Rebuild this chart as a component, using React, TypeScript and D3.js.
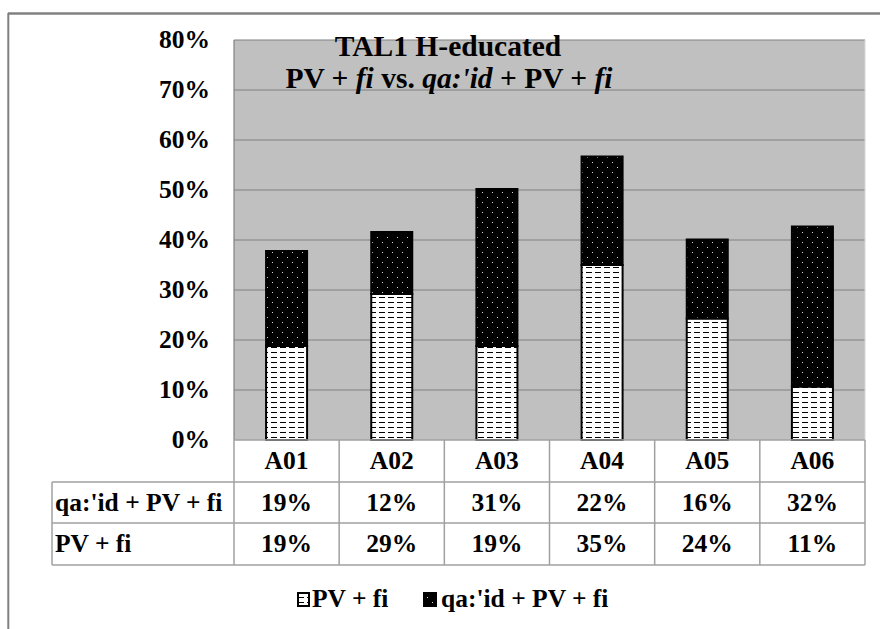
import React from "react";
import * as d3 from "d3";

const categories = ["A01", "A02", "A03", "A04", "A05", "A06"];
const seriesNames = ["PV + fi", "qa:'id + PV + fi"];
const pvValues = [18.8, 29.2, 18.8, 35.0, 24.3, 10.7];
const qaValues = [19.0, 12.4, 31.4, 21.7, 15.8, 32.0];
const yTicks = [0, 10, 20, 30, 40, 50, 60, 70, 80];

const W = 880;
const H = 629;
const plotL = 234;
const plotR = 865;
const plotT = 40;
const plotB = 440;
const tableL = 52;
const rowBounds = [440, 482, 523, 565];
const FONT = "'Liberation Serif', 'Times New Roman', serif";

export default function App() {
  const x = d3.scaleBand<string>().domain(categories).range([plotL, plotR]).paddingInner(0).paddingOuter(0);
  const y = d3.scaleLinear().domain([0, 80]).range([plotB, plotT]);
  const barW = x.bandwidth() * 0.39;
  const stackData = categories.map((c, i) => ({ cat: c, pv: pvValues[i], qa: qaValues[i] }));
  const stack = d3.stack<any>().keys(["pv", "qa"])(stackData);
  const fills = ["url(#dashPat)", "url(#dotPat)"];
  const fmt = (v: number) => `${Math.round(v)}%`;
  const rows = [
    { label: seriesNames[1], values: qaValues },
    { label: seriesNames[0], values: pvValues },
  ];
  const fs = 25.5;

  return (
    <svg width={W} height={H} style={{ position: "absolute", left: 0, top: 0, background: "#fff" }}>
      <defs>
        <pattern id="dashPat" patternUnits="userSpaceOnUse" width={9} height={5}>
          <rect width={9} height={5} fill="#fff" />
          <rect x={1} y={2} width={6} height={1} fill="#000" />
        </pattern>
        <pattern id="dotPat" patternUnits="userSpaceOnUse" width={10} height={10}>
          <rect width={10} height={10} fill="#000" />
          <rect x={2} y={2} width={1} height={1} fill="#d8d8d8" />
          <rect x={7} y={7} width={1} height={1} fill="#d8d8d8" />
        </pattern>
      </defs>
      {/* outer frame */}
      <line x1={8} y1={13.5} x2={W} y2={13.5} stroke="#808080" strokeWidth={2.5} />
      <line x1={8.3} y1={13} x2={8.3} y2={H} stroke="#808080" strokeWidth={2} />
      {/* plot area */}
      <rect x={plotL} y={plotT} width={plotR - plotL} height={plotB - plotT} fill="#c0c0c0" />
      {yTicks.filter((t) => t > 0 && t < 80).map((t) => (
        <line key={t} x1={plotL} x2={plotR} y1={y(t)} y2={y(t)} stroke="#808080" strokeWidth={1.2} />
      ))}
      <line x1={plotL} x2={plotR} y1={plotT} y2={plotT} stroke="#808080" strokeWidth={1.2} />
      <line x1={plotL} x2={plotL} y1={plotT} y2={plotB} stroke="#808080" strokeWidth={1.2} />
      <line x1={plotR} x2={plotR} y1={plotT} y2={plotB} stroke="#d8d8d8" strokeWidth={1} />
      <g style={{ fontFamily: FONT, fontWeight: "bold" }}>
        {/* y tick labels */}
        {yTicks.map((t) => (
          <text key={t} x={210} y={y(t) + fs * 0.33} textAnchor="end" fontSize={fs}>
            {`${t}%`}
          </text>
        ))}
      </g>
      {/* bars */}
      {stack.map((s, si) =>
        s.map((d, i) => (
          <rect
            key={`${si}-${i}`}
            x={(x(categories[i]) as number) + (x.bandwidth() - barW) / 2}
            y={y(d[1])}
            width={barW}
            height={y(d[0]) - y(d[1])}
            fill={fills[si]}
            stroke="#000"
            strokeWidth={2}
          />
        ))
      )}
      <g style={{ fontFamily: FONT, fontWeight: "bold" }}>
        {/* title */}
        <text x={448} y={56} textAnchor="middle" fontSize={29.5}>TAL1 H-educated</text>
        <text x={449} y={88} textAnchor="middle" fontSize={29.5}>
          <tspan>PV + </tspan>
          <tspan fontStyle="italic">fi</tspan>
          <tspan> vs. </tspan>
          <tspan fontStyle="italic">qa:'id</tspan>
          <tspan> + PV + </tspan>
          <tspan fontStyle="italic">fi</tspan>
        </text>
      </g>
      {/* data table */}
      <g stroke="#a0a0a0" strokeWidth={1.5}>
        <line x1={plotL} x2={plotR} y1={rowBounds[0]} y2={rowBounds[0]} />
        <line x1={tableL} x2={plotR} y1={rowBounds[1]} y2={rowBounds[1]} />
        <line x1={tableL} x2={plotR} y1={rowBounds[2]} y2={rowBounds[2]} />
        <line x1={tableL} x2={plotR} y1={rowBounds[3]} y2={rowBounds[3]} />
        <line x1={tableL} x2={tableL} y1={rowBounds[1]} y2={rowBounds[3]} />
        {categories.map((c) => (
          <line key={c} x1={x(c) as number} x2={x(c) as number} y1={rowBounds[0]} y2={rowBounds[3]} />
        ))}
        <line x1={plotR} x2={plotR} y1={rowBounds[0]} y2={rowBounds[3]} />
      </g>
      <g style={{ fontFamily: FONT, fontWeight: "bold" }}>
        {categories.map((c) => (
          <text key={c} x={(x(c) as number) + x.bandwidth() / 2} y={(rowBounds[0] + rowBounds[1]) / 2 + fs * 0.33} textAnchor="middle" fontSize={fs}>
            {c}
          </text>
        ))}
        {rows.map((r, ri) => (
          <g key={ri}>
            <text x={tableL + 3} y={(rowBounds[ri + 1] + rowBounds[ri + 2]) / 2 + fs * 0.33} fontSize={fs}>
              {r.label}
            </text>
            {r.values.map((v, i) => (
              <text key={i} x={(x(categories[i]) as number) + x.bandwidth() / 2} y={(rowBounds[ri + 1] + rowBounds[ri + 2]) / 2 + fs * 0.33} textAnchor="middle" fontSize={fs}>
                {fmt(v)}
              </text>
            ))}
          </g>
        ))}
        {/* legend */}
        <text x={312} y={607} fontSize={fs}>{seriesNames[0]}</text>
        <text x={441} y={607} fontSize={fs}>{seriesNames[1]}</text>
      </g>
      <rect x={298} y={593} width={11} height={13} fill={fills[0]} stroke="#000" strokeWidth={2} />
      <rect x={424} y={593} width={12} height={13} fill={fills[1]} stroke="#000" strokeWidth={2} />
    </svg>
  );
}
